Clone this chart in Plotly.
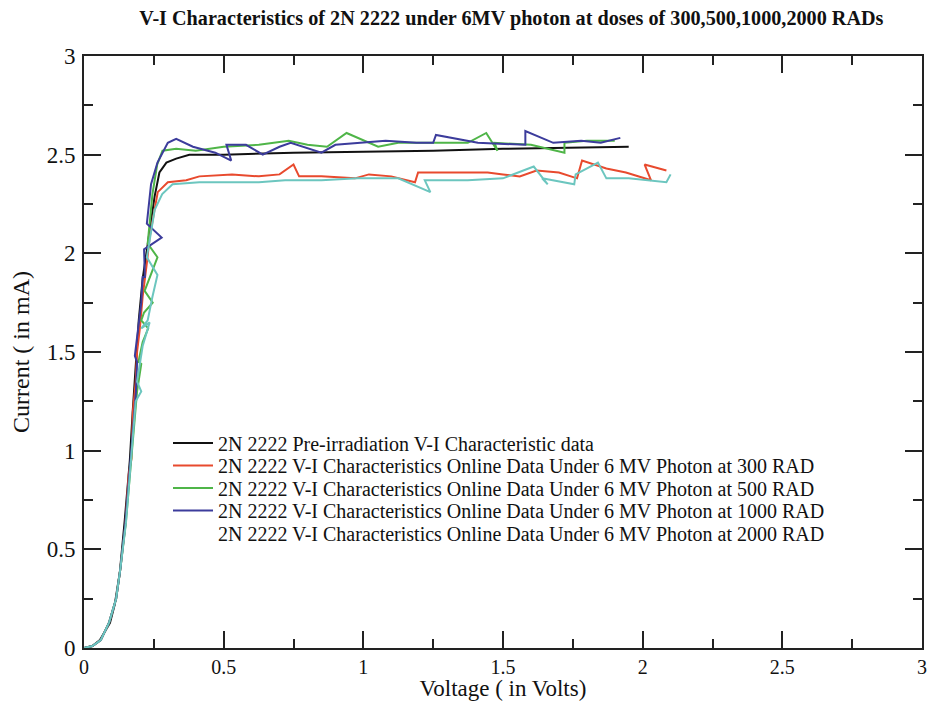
import plotly.graph_objects as go

# ---------------- data ----------------
pre_v = [0, 0.03, 0.057, 0.093, 0.11, 0.128, 0.146, 0.164, 0.174, 0.189, 0.196, 0.21, 0.235,
         0.253, 0.27, 0.295, 0.33, 0.377, 0.5, 0.75, 1.0, 1.25, 1.5, 1.75, 1.95]
pre_i = [0, 0.01, 0.04, 0.127, 0.22, 0.38, 0.65, 0.95, 1.19, 1.5, 1.66, 1.87, 2.12,
         2.29, 2.41, 2.46, 2.48, 2.50, 2.50, 2.51, 2.515, 2.52, 2.53, 2.535, 2.54]

r300_v = [0, 0.03, 0.06, 0.09, 0.115, 0.13, 0.148, 0.16, 0.17, 0.175, 0.185, 0.19, 0.2, 0.21,
          0.225, 0.235, 0.25, 0.264, 0.3, 0.366, 0.413, 0.53, 0.626, 0.70, 0.75, 0.77, 0.85,
          0.97, 1.02, 1.10, 1.185, 1.196, 1.30, 1.445, 1.50, 1.56, 1.62, 1.70, 1.765, 1.783,
          1.87, 1.94, 2.03, 2.007, 2.085]
r300_i = [0, 0.01, 0.04, 0.13, 0.25, 0.4, 0.62, 0.88, 0.96, 1.2, 1.35, 1.5, 1.62, 1.78,
          1.95, 2.08, 2.2, 2.31, 2.36, 2.37, 2.39, 2.40, 2.39, 2.40, 2.45, 2.39, 2.39,
          2.38, 2.40, 2.39, 2.36, 2.41, 2.41, 2.41, 2.40, 2.39, 2.42, 2.41, 2.38, 2.47,
          2.43, 2.41, 2.37, 2.45, 2.42]

r500_v = [0, 0.03, 0.06, 0.09, 0.115, 0.13, 0.15, 0.165, 0.18, 0.19, 0.205, 0.195, 0.21, 0.23,
          0.205, 0.215, 0.246, 0.217, 0.263, 0.228, 0.245, 0.262, 0.281, 0.33, 0.40, 0.50,
          0.626, 0.733, 0.80, 0.87, 0.94, 1.053, 1.125, 1.24, 1.374, 1.44, 1.48, 1.47, 1.60,
          1.72, 1.72, 1.80, 1.90]
r500_i = [0, 0.01, 0.04, 0.13, 0.25, 0.4, 0.64, 0.9, 1.12, 1.3, 1.44, 1.45, 1.55, 1.62,
          1.66, 1.70, 1.75, 1.81, 1.98, 2.05, 2.3, 2.45, 2.52, 2.53, 2.52, 2.54,
          2.55, 2.57, 2.55, 2.54, 2.61, 2.54, 2.56, 2.56, 2.56, 2.61, 2.52, 2.56, 2.55,
          2.51, 2.56, 2.57, 2.57]

r1000_v = [0, 0.03, 0.06, 0.09, 0.115, 0.13, 0.148, 0.165, 0.175, 0.186, 0.19, 0.182, 0.195,
           0.205, 0.21, 0.218, 0.215, 0.278, 0.225, 0.24, 0.263, 0.30, 0.33, 0.39, 0.47, 0.527,
           0.51, 0.58, 0.64, 0.70, 0.74, 0.85, 0.90, 1.08, 1.19, 1.25, 1.26, 1.41, 1.58, 1.58,
           1.68, 1.78, 1.85, 1.92]
r1000_i = [0, 0.01, 0.04, 0.13, 0.25, 0.4, 0.63, 0.9, 1.1, 1.3, 1.45, 1.48, 1.62,
           1.75, 1.88, 1.88, 2.02, 2.08, 2.15, 2.35, 2.46, 2.56, 2.58, 2.54, 2.51, 2.47,
           2.55, 2.55, 2.50, 2.54, 2.56, 2.51, 2.55, 2.57, 2.56, 2.56, 2.60, 2.56, 2.55, 2.62,
           2.56, 2.57, 2.56, 2.585]

r2000_v = [0, 0.03, 0.06, 0.09, 0.115, 0.13, 0.15, 0.165, 0.175, 0.185, 0.205, 0.19, 0.21,
           0.235, 0.205, 0.228, 0.245, 0.263, 0.225, 0.24, 0.253, 0.28, 0.317, 0.413, 0.55,
           0.626, 0.72, 0.85, 0.98, 1.125, 1.24, 1.22, 1.374, 1.50, 1.61, 1.66, 1.64, 1.755,
           1.76, 1.84, 1.87, 1.95, 2.085, 2.10]
r2000_i = [0, 0.01, 0.04, 0.13, 0.25, 0.4, 0.63, 0.88, 1.08, 1.25, 1.3, 1.35, 1.53,
           1.65, 1.62, 1.66, 1.78, 1.89, 1.98, 2.1, 2.22, 2.30, 2.35, 2.36, 2.36,
           2.36, 2.37, 2.37, 2.38, 2.38, 2.31, 2.37, 2.37, 2.38, 2.44, 2.35, 2.38, 2.35,
           2.40, 2.46, 2.38, 2.38, 2.36, 2.40]

names = [
    "2N 2222 Pre-irradiation V-I Characteristic data",
    "2N 2222 V-I Characteristics Online Data Under 6 MV Photon at 300 RAD",
    "2N 2222 V-I Characteristics Online Data Under 6 MV Photon at 500 RAD",
    "2N 2222 V-I Characteristics Online Data Under 6 MV Photon at 1000 RAD",
    "2N 2222 V-I Characteristics Online Data Under 6 MV Photon at 2000 RAD",
]
colors = ["#111111", "#e84a2e", "#4fb548", "#3c3c9c", "#6cc6bf"]

FONT = "Liberation Serif, Times New Roman, serif"

# page has an 8px body margin: figure is sized/offset to compensate
W, H = 927, 693
ML, MR, MT, MB = 76, 13, 48, 53
PLOT_H = H - MT - MB
PLOT_W = W - ML - MR

legend_ids = ["legend", "legend2", "legend3", "legend4", "legend5"]
legend_centers_px = [435, 457.5, 480, 502.5, 525]  # figure px (from top)

fig = go.Figure()
series = [(pre_v, pre_i), (r300_v, r300_i), (r500_v, r500_i), (r1000_v, r1000_i)]
for k, ((v, i), n, c) in enumerate(zip(series, names[:4], colors[:4])):
    fig.add_trace(go.Scatter(x=v, y=i, mode="lines", name=n, legend=legend_ids[k],
                             line=dict(color=c, width=2)))
# 2000 RAD curve (legend entry shown without a line sample, as in the reference)
fig.add_trace(go.Scatter(x=r2000_v, y=r2000_i, mode="lines", name=names[4],
                         line=dict(color=colors[4], width=2), showlegend=False))
fig.add_trace(go.Scatter(x=[None], y=[None], mode="lines", name=names[4], legend=legend_ids[4],
                         line=dict(color="rgba(0,0,0,0)", width=2)))

axis_common = dict(
    range=[0, 3], showline=True, linewidth=2, linecolor="#222",
    mirror="ticks", ticks="inside", ticklen=17, tickwidth=2, tickcolor="#222",
    dtick=0.5, showgrid=False, zeroline=False, automargin=False,
    ticklabeloverflow="allow",
    minor=dict(ticks="inside", ticklen=9, tickwidth=2, tickcolor="#222", dtick=0.25, showgrid=False),
)

layout_legends = {}
for lid, cy in zip(legend_ids, legend_centers_px):
    layout_legends[lid] = dict(
        x=(160 - ML) / PLOT_W, y=(H - MB - cy) / PLOT_H, xanchor="left", yanchor="middle",
        bgcolor="rgba(0,0,0,0)", borderwidth=0,
        font=dict(family=FONT, size=20, color="#111"), itemwidth=40,
    )

fig.update_layout(
    width=W, height=H,
    margin=dict(l=ML, r=MR, t=MT, b=MB),
    paper_bgcolor="white", plot_bgcolor="white",
    title=dict(text="<b>V-I Characteristics of 2N 2222 under 6MV photon at doses of 300,500,1000,2000 RADs</b>",
               x=0.543, xanchor="center", y=1 - 10 / H, yanchor="middle",
               font=dict(family=FONT, size=20.2, color="#111")),
    xaxis=dict(**axis_common,
               tickfont=dict(family=FONT, size=20, color="#111"),
               title=dict(text="Voltage ( in Volts)", font=dict(family=FONT, size=23, color="#111"),
                          standoff=8)),
    yaxis=dict(**axis_common, ticklabelstandoff=2,
               tickfont=dict(family=FONT, size=23, color="#111"),
               title=dict(text="Current ( in mA)", font=dict(family=FONT, size=24, color="#111"),
                          standoff=14)),
    showlegend=True,
    **layout_legends,
)

fig.write_html("out.html")
